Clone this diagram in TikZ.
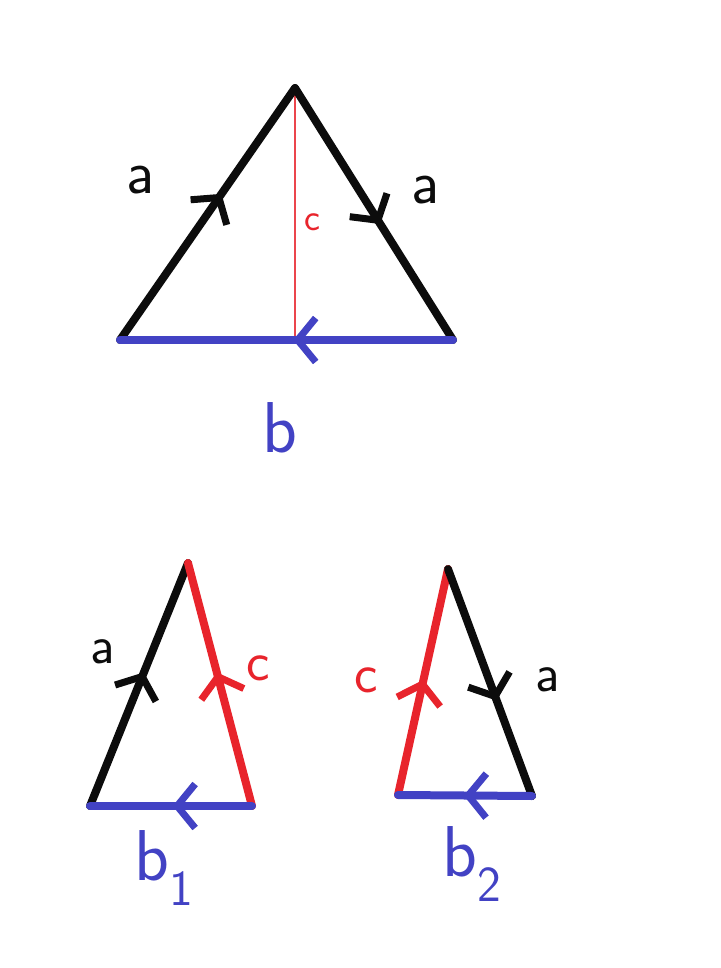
\documentclass[tikz,border=0pt]{standalone}
\usepackage{tikz}
\usetikzlibrary{arrows.meta, decorations.markings}
\definecolor{penblack}{RGB}{12,12,12}
\definecolor{penred}{RGB}{232,36,44}
\definecolor{penblue}{RGB}{66,66,196}

\tikzset{
  side/.style={line width=8pt, line cap=round, line join=round},
  midarrow/.style={postaction={decorate}, decoration={markings,
    mark=at position #1 with {\arrow{Straight Barb[length=18pt,width=44pt,line width=7pt]}}}},
  midarrow/.default=0.5,
  lbl/.style={inner sep=0pt, font=\sffamily\fontsize{#1}{#1}\selectfont},
  lbl/.default=50
}

\begin{document}
\begin{tikzpicture}[x=1pt, y=-1pt]
    \useasboundingbox[fill=white] (0,0) rectangle (720,968);

    % Whole triangle
    \coordinate (T) at (295,88);
    \coordinate (L) at (120,340);
    \coordinate (R) at (453,340);
    \coordinate (F) at (295,340);
    \draw[penred!85, line width=1.5pt] (T) -- (F);
    \draw[side, penblack, midarrow=0.58] (L) -- (T);
    \draw[side, penblack, midarrow=0.54] (T) -- (R);
    \draw[side, penblue, midarrow=0.48] (R) -- (L);
    \node[lbl=62, penblack] (aL) at (140,180) {a};
    \node[lbl=62, penblack] (aR) at (425,190) {a};
    \node[lbl=38, penred] (cM) at (312,222) {c};
    \node[lbl=72, penblue] (b) at (280,428) {b};

    % Left part
    \coordinate (T1) at (188,563);
    \coordinate (L1) at (90,806);
    \coordinate (R1) at (252,806);
    \draw[side, penblack, midarrow=0.55] (L1) -- (T1);
    \draw[side, penred, midarrow=0.55] (R1) -- (T1);
    \draw[side, penblue, midarrow=0.49] (R1) -- (L1);
    \node[lbl=54, penblack] (a1) at (103,652) {a};
    \node[lbl=56, penred] (c1) at (258,668) {c};
    \node[lbl=72, penblue] (b1) at (164,868) {b\textsubscript{1}};

    % Right part
    \coordinate (T2) at (448,569);
    \coordinate (L2) at (398,795);
    \coordinate (R2) at (532,796);
    \draw[side, penred, midarrow=0.51] (L2) -- (T2);
    \draw[side, penblack, midarrow=0.58] (T2) -- (R2);
    \draw[side, penblue, midarrow=0.51] (R2) -- (L2);
    \node[lbl=56, penred] (c2) at (366,680) {c};
    \node[lbl=54, penblack] (a2) at (548,680) {a};
    \node[lbl=72, penblue] (b2) at (472,864) {b\textsubscript{2}};
\end{tikzpicture}
\end{document}
